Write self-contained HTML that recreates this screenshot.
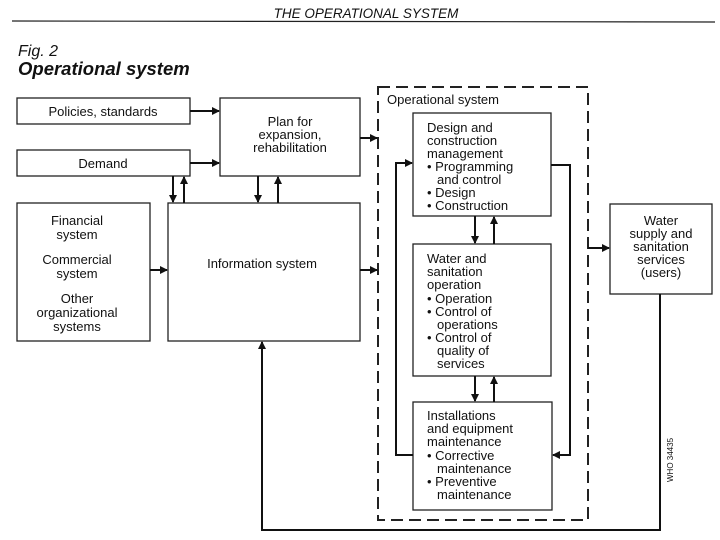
<!DOCTYPE html>
<html><head><style>
body{margin:0;background:#fff;}
svg{display:block;font-family:"Liberation Sans",sans-serif;}
text{fill:#111;}
</style></head><body>
<svg width="720" height="540" viewBox="0 0 720 540">
<defs><marker id="a" markerWidth="8" markerHeight="8" refX="7" refY="4" orient="auto" markerUnits="userSpaceOnUse"><path d="M0,0 L8,4 L0,8 z" fill="#111"/></marker></defs>
<text x="366" y="18" font-size="13.5" font-style="italic" text-anchor="middle">THE OPERATIONAL SYSTEM</text>
<line x1="12" y1="21" x2="715" y2="22" stroke="#222" stroke-width="1.2"/>
<text x="18" y="56" font-size="16" font-style="italic">Fig. 2</text>
<text x="18" y="75" font-size="18.5" font-style="italic" font-weight="bold">Operational system</text>
<g fill="none" stroke="#222" stroke-width="1.3">
<rect x="17" y="98" width="173" height="26"/>
<rect x="17" y="150" width="173" height="26"/>
<rect x="220" y="98" width="140" height="78"/>
<rect x="17" y="203" width="133" height="138"/>
<rect x="168" y="203" width="192" height="138"/>
<rect x="378" y="87" width="210" height="433" stroke-dasharray="12,6" stroke-width="2"/>
<rect x="413" y="113" width="138" height="103"/>
<rect x="413" y="244" width="138" height="132"/>
<rect x="413" y="402" width="139" height="108"/>
<rect x="610" y="204" width="102" height="90"/>
</g>
<g fill="none" stroke="#111" stroke-width="2">
<line x1="190" y1="111" x2="219" y2="111" marker-end="url(#a)"/>
<line x1="190" y1="163" x2="219" y2="163" marker-end="url(#a)"/>
<line x1="360" y1="138" x2="377" y2="138" marker-end="url(#a)"/>
<line x1="360" y1="270" x2="377" y2="270" marker-end="url(#a)"/>
<line x1="150" y1="270" x2="167" y2="270" marker-end="url(#a)"/>
<line x1="588" y1="248" x2="609" y2="248" marker-end="url(#a)"/>
<line x1="173" y1="176" x2="173" y2="202" marker-end="url(#a)"/>
<line x1="184" y1="203" x2="184" y2="177" marker-end="url(#a)"/>
<line x1="258" y1="176" x2="258" y2="202" marker-end="url(#a)"/>
<line x1="278" y1="203" x2="278" y2="177" marker-end="url(#a)"/>
<line x1="475" y1="216" x2="475" y2="243" marker-end="url(#a)"/>
<line x1="494" y1="244" x2="494" y2="217" marker-end="url(#a)"/>
<line x1="475" y1="376" x2="475" y2="401" marker-end="url(#a)"/>
<line x1="494" y1="402" x2="494" y2="377" marker-end="url(#a)"/>
<polyline points="413,455 396,455 396,163 412,163" marker-end="url(#a)"/>
<polyline points="551,165 570,165 570,455 553,455" marker-end="url(#a)"/>
<polyline points="660,294 660,530 262,530 262,342" marker-end="url(#a)"/>
</g>
<g font-size="13">
<text x="103" y="116" text-anchor="middle">Policies, standards</text>
<text x="103" y="168" text-anchor="middle">Demand</text>
<text x="290" y="126" text-anchor="middle">Plan for</text>
<text x="290" y="139" text-anchor="middle">expansion,</text>
<text x="290" y="152" text-anchor="middle">rehabilitation</text>
<text x="77" y="225" text-anchor="middle">Financial</text>
<text x="77" y="239" text-anchor="middle">system</text>
<text x="77" y="264" text-anchor="middle">Commercial</text>
<text x="77" y="278" text-anchor="middle">system</text>
<text x="77" y="303" text-anchor="middle">Other</text>
<text x="77" y="317" text-anchor="middle">organizational</text>
<text x="77" y="331" text-anchor="middle">systems</text>
<text x="262" y="268" text-anchor="middle">Information system</text>
<text x="387" y="104">Operational system</text>
<text x="427" y="132">Design and</text>
<text x="427" y="145">construction</text>
<text x="427" y="158">management</text>
<text x="427" y="171">• Programming</text>
<text x="437" y="184">and control</text>
<text x="427" y="197">• Design</text>
<text x="427" y="210">• Construction</text>
<text x="427" y="263">Water and</text>
<text x="427" y="276">sanitation</text>
<text x="427" y="289">operation</text>
<text x="427" y="303">• Operation</text>
<text x="427" y="316">• Control of</text>
<text x="437" y="329">operations</text>
<text x="427" y="342">• Control of</text>
<text x="437" y="355">quality of</text>
<text x="437" y="368">services</text>
<text x="427" y="420">Installations</text>
<text x="427" y="433">and equipment</text>
<text x="427" y="446">maintenance</text>
<text x="427" y="460">• Corrective</text>
<text x="437" y="473">maintenance</text>
<text x="427" y="486">• Preventive</text>
<text x="437" y="499">maintenance</text>
<text x="661" y="225" text-anchor="middle">Water</text>
<text x="661" y="238" text-anchor="middle">supply and</text>
<text x="661" y="251" text-anchor="middle">sanitation</text>
<text x="661" y="264" text-anchor="middle">services</text>
<text x="661" y="277" text-anchor="middle">(users)</text>
</g>
<text x="0" y="0" font-size="8" transform="translate(673,482) rotate(-90)">WHO 34435</text>
</svg>
</body></html>
